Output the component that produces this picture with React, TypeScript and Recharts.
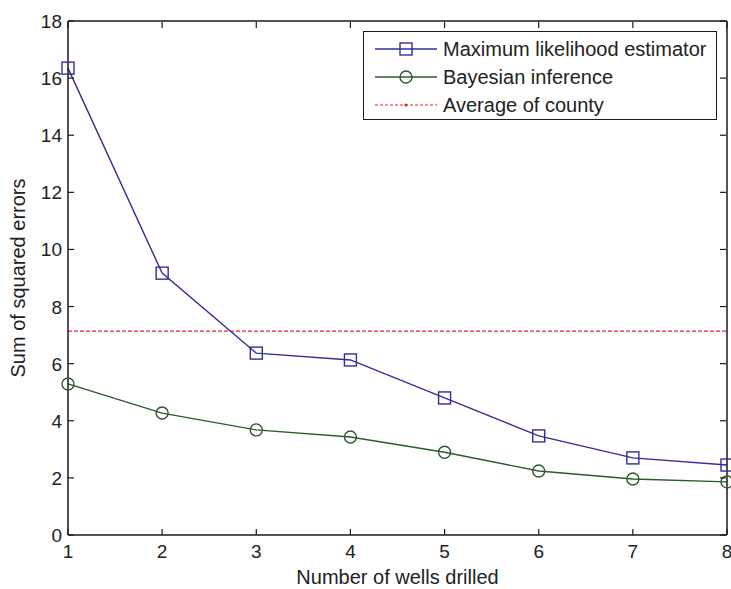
import React from 'react'
import { LineChart, Line, XAxis, YAxis, ReferenceLine } from 'recharts'

const wells = [1, 2, 3, 4, 5, 6, 7, 8]
const mleErrors = [16.35, 9.17, 6.37, 6.13, 4.8, 3.47, 2.7, 2.45]
const bayesErrors = [5.29, 4.27, 3.68, 3.43, 2.9, 2.24, 1.96, 1.86]
const countyAverage = 7.14
const yTicks = [0, 2, 4, 6, 8, 10, 12, 14, 16, 18]

const data = wells.map((w, i) => ({ wells: w, mle: mleErrors[i], bayes: bayesErrors[i] }))

const FONT = '"Liberation Sans", Arial, sans-serif'
const AXIS = '#1a1a1a'
const BLUE = '#2f2f9a'
const GREEN = '#2c5a2c'
const RED = '#e8262a'
const TICK_LEN = 6

const Square = (props: any) => {
  const { cx, cy } = props
  if (cx == null || cy == null) return null
  return <rect x={cx - 6} y={cy - 6} width={12} height={12} fill="none" stroke={BLUE} strokeWidth={1.4} />
}

const Circle = (props: any) => {
  const { cx, cy } = props
  if (cx == null || cy == null) return null
  return <circle cx={cx} cy={cy} r={6} fill="none" stroke={GREEN} strokeWidth={1.4} />
}

// labels outside, tick marks pointing into the plot (MATLAB style)
const LeftTick = (props: any) => {
  const { x, y, payload } = props
  return (
    <g>
      <line x1={x + 6} x2={x + 6 + TICK_LEN} y1={y} y2={y} stroke={AXIS} strokeWidth={1.2} />
      <text x={x} y={y} dy={7} textAnchor="end" fontSize={19} fontFamily={FONT} fill="#222">{payload.value}</text>
    </g>
  )
}

const BottomTick = (props: any) => {
  const { x, y, payload } = props
  return (
    <g>
      <line x1={x} x2={x} y1={y - 8} y2={y - 8 - TICK_LEN} stroke={AXIS} strokeWidth={1.2} />
      <text x={x} y={y} dy={15} textAnchor="middle" fontSize={19} fontFamily={FONT} fill="#222">{payload.value}</text>
    </g>
  )
}

const RightTick = (props: any) => {
  const { x, y } = props
  return <line x1={x - 1} x2={x - 1 - TICK_LEN} y1={y} y2={y} stroke={AXIS} strokeWidth={1.2} />
}

const TopTick = (props: any) => {
  const { x, y } = props
  return <line x1={x} x2={x} y1={y + 1} y2={y + 1 + TICK_LEN} stroke={AXIS} strokeWidth={1.2} />
}

const LegendRow = ({ kind, label }: { kind: 'mle' | 'bayes' | 'avg'; label: string }) => (
  <div style={{ display: 'flex', alignItems: 'center', height: 28 }}>
    <svg width={62} height={16} style={{ marginRight: 6 }}>
      {kind === 'avg' ? (
        <>
          <line x1={0} x2={62} y1={8} y2={8} stroke={RED} strokeWidth={1.2} strokeDasharray="3 2" />
          <circle cx={31} cy={8} r={1.6} fill={RED} />
        </>
      ) : (
        <>
          <line x1={0} x2={62} y1={8} y2={8} stroke={kind === 'mle' ? BLUE : GREEN} strokeWidth={1.4} />
          {kind === 'mle' ? (
            <rect x={25} y={2} width={12} height={12} fill="none" stroke={BLUE} strokeWidth={1.4} />
          ) : (
            <circle cx={31} cy={8} r={6} fill="none" stroke={GREEN} strokeWidth={1.4} />
          )}
        </>
      )}
    </svg>
    <span>{label}</span>
  </div>
)

export default function App() {
  return (
    <div style={{ position: 'absolute', left: 0, top: 0, width: 731, height: 589, background: '#fff' }}>
      <LineChart width={731} height={589} data={data} margin={{ top: 20, right: 3, bottom: 0, left: 8 }}>
        <XAxis
          dataKey="wells"
          type="number"
          domain={[1, 8]}
          ticks={wells}
          tickSize={0}
          tickMargin={8}
          height={54}
          stroke={AXIS}
          strokeWidth={1.5}
          tick={<BottomTick />}
          label={{ value: 'Number of wells drilled', position: 'insideBottom', offset: 5, fontSize: 20, fontFamily: FONT, fill: '#222' }}
        />
        <XAxis xAxisId="top" orientation="top" dataKey="wells" type="number" domain={[1, 8]} ticks={wells} height={1} tickSize={0} tickMargin={0} stroke={AXIS} strokeWidth={1.5} tick={<TopTick />} />
        <YAxis
          domain={[0, 18]}
          ticks={yTicks}
          width={60}
          tickSize={0}
          tickMargin={6}
          stroke={AXIS}
          strokeWidth={1.5}
          tick={<LeftTick />}
          label={{
            content: (p: any) => {
              const vb = p.viewBox
              const cx = 18
              const cy = vb.y + vb.height / 2
              return (
                <text x={cx} y={cy} transform={`rotate(-90 ${cx} ${cy})`} textAnchor="middle" dominantBaseline="central" fontSize={20} fontFamily={FONT} fill="#222">
                  Sum of squared errors
                </text>
              )
            },
          }}
        />
        <YAxis yAxisId="right" orientation="right" domain={[0, 18]} ticks={yTicks} width={1} tickSize={0} tickMargin={0} stroke={AXIS} strokeWidth={1.5} tick={<RightTick />} />
        <ReferenceLine y={countyAverage} stroke={RED} strokeWidth={1.4} strokeDasharray="4 2" />
        {/* invisible series so the mirrored top/right axes get drawn */}
        <Line xAxisId="top" yAxisId="right" dataKey="mle" stroke="none" dot={false} activeDot={false} legendType="none" isAnimationActive={false} />
        <Line dataKey="mle" stroke={BLUE} strokeWidth={1.4} dot={<Square />} activeDot={false} isAnimationActive={false} />
        <Line dataKey="bayes" stroke={GREEN} strokeWidth={1.4} dot={<Circle />} activeDot={false} isAnimationActive={false} />
      </LineChart>
      <div
        style={{
          position: 'absolute',
          left: 363,
          top: 31,
          width: 354,
          height: 89,
          border: `1.5px solid ${AXIS}`,
          background: '#fff',
          fontFamily: FONT,
          fontSize: 20,
          color: '#222',
          boxSizing: 'border-box',
          padding: '3px 0 0 11px',
        }}
      >
        <LegendRow kind="mle" label="Maximum likelihood estimator" />
        <LegendRow kind="bayes" label="Bayesian inference" />
        <LegendRow kind="avg" label="Average of county" />
      </div>
    </div>
  )
}
